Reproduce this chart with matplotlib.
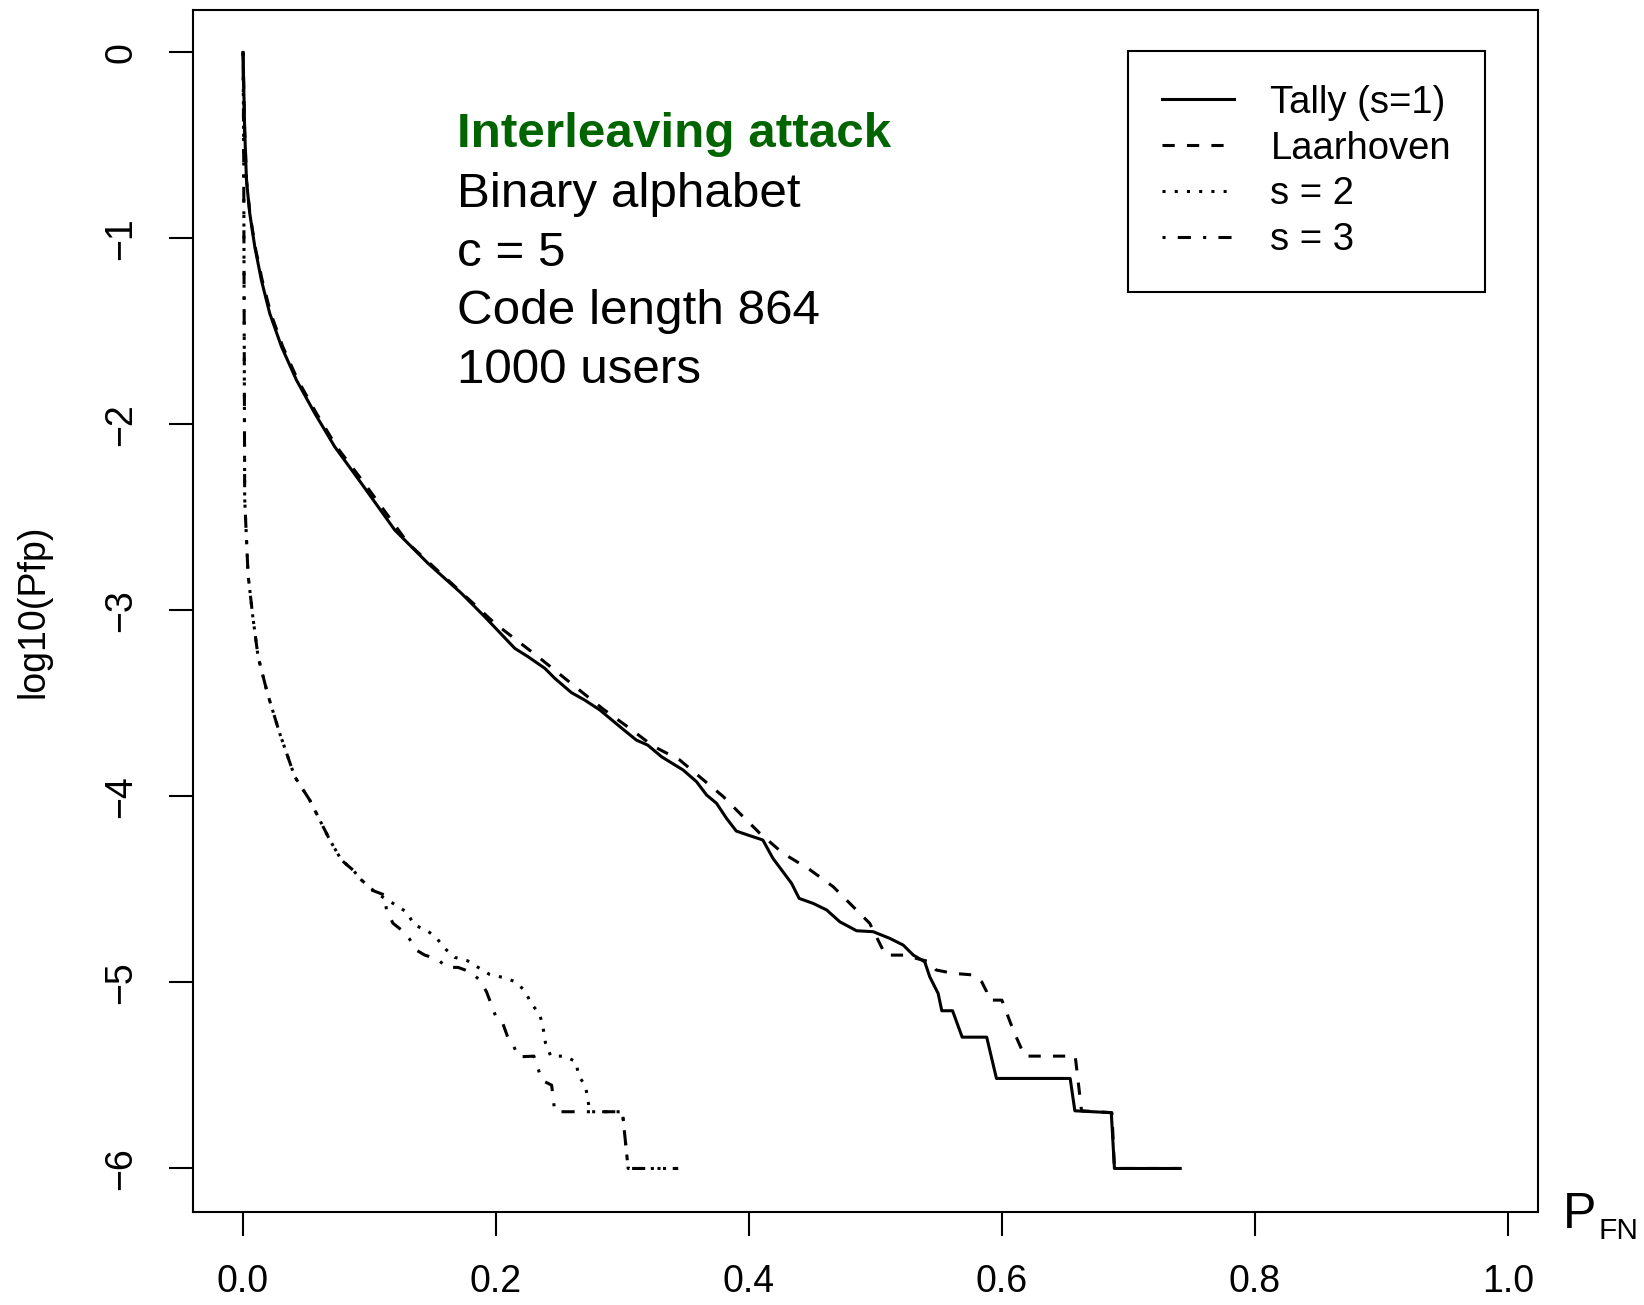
import matplotlib
matplotlib.use("Agg")
import matplotlib.pyplot as plt
from matplotlib.ticker import FormatStrFormatter

plt.rcParams["font.family"] = ["Liberation Sans", "DejaVu Sans"]

# curves: x = P_FN, y = log10(Pfp)
tally_x = [0.0, 0.0013, 0.0027, 0.0053, 0.0093, 0.0145, 0.0211, 0.0304, 0.0422, 0.0567,
           0.0725, 0.0936, 0.120, 0.1463, 0.1727, 0.1911, 0.2149, 0.2254, 0.2386, 0.2465,
           0.2597, 0.2702, 0.2821, 0.298, 0.311, 0.320, 0.331, 0.348, 0.3586, 0.3665,
           0.3744, 0.3823, 0.390, 0.3994, 0.411, 0.419, 0.4337, 0.4397, 0.4508, 0.4614,
           0.4719, 0.4851, 0.4982, 0.5114, 0.522, 0.530, 0.539, 0.543, 0.5496, 0.5525,
           0.561, 0.5686, 0.588, 0.5957, 0.654, 0.6577, 0.6865, 0.689, 0.741]
tally_y = [0.0, -0.417, -0.686, -0.865, -1.045, -1.224, -1.403, -1.582, -1.761, -1.94,
           -2.12, -2.317, -2.568, -2.747, -2.908, -3.034, -3.204, -3.249, -3.311, -3.365,
           -3.442, -3.482, -3.535, -3.625, -3.697, -3.724, -3.787, -3.858, -3.921, -3.992,
           -4.037, -4.118, -4.186, -4.208, -4.234, -4.333, -4.467, -4.548, -4.575, -4.61,
           -4.674, -4.722, -4.727, -4.763, -4.799, -4.853, -4.889, -4.97, -5.059, -5.152,
           -5.152, -5.294, -5.294, -5.516, -5.516, -5.69, -5.70, -6.0, -6.0]

laar_x = [0.0, 0.0013, 0.0028, 0.0055, 0.0097, 0.015, 0.0218, 0.0313, 0.0432, 0.058,
          0.074, 0.096, 0.1305, 0.1621, 0.199, 0.2333, 0.2676, 0.2847, 0.3058, 0.3242,
          0.3453, 0.361, 0.3796, 0.3954, 0.4086, 0.427, 0.4468, 0.4666, 0.4798, 0.4955,
          0.508, 0.522, 0.543, 0.548, 0.5615, 0.578, 0.584, 0.588, 0.59, 0.6, 0.609,
          0.618, 0.658, 0.663, 0.687, 0.689, 0.74]
laar_y = [0.0, -0.42, -0.69, -0.87, -1.05, -1.22, -1.40, -1.58, -1.76, -1.94,
          -2.12, -2.317, -2.639, -2.837, -3.069, -3.249, -3.437, -3.53, -3.634, -3.729,
          -3.804, -3.894, -4.0, -4.109, -4.198, -4.306, -4.387, -4.485, -4.575, -4.682,
          -4.853, -4.853, -4.889, -4.933, -4.951, -4.96, -4.996, -5.05, -5.095, -5.095, -5.257,
          -5.396, -5.396, -5.69, -5.70, -6.0, -6.0]

s2_x = [0.0, 0.0005, 0.0013, 0.004, 0.0079, 0.0119, 0.0193, 0.029, 0.0409, 0.0527,
        0.0686, 0.0778, 0.087, 0.0936, 0.1055, 0.1208, 0.1297, 0.1352, 0.145, 0.1529,
        0.1595, 0.1674, 0.1774, 0.1864, 0.195, 0.2056, 0.2154, 0.2228, 0.2281, 0.2346,
        0.2373, 0.2391, 0.2433, 0.2544, 0.2631, 0.2655, 0.2708, 0.2728, 0.2742, 0.300,
        0.3013, 0.3045, 0.344]
s2_y = [0.0, -0.5, -2.4, -2.81, -3.043, -3.249, -3.446, -3.661, -3.894, -4.019,
        -4.234, -4.342, -4.396, -4.449, -4.52, -4.584, -4.623, -4.691, -4.718, -4.76,
        -4.817, -4.865, -4.883, -4.921, -4.957, -4.973, -4.996, -5.045, -5.116, -5.17,
        -5.247, -5.324, -5.396, -5.396, -5.426, -5.503, -5.557, -5.636, -5.695, -5.695,
        -5.785, -6.0, -6.0]

s3_x = [0.0, 0.0005, 0.0013, 0.004, 0.0079, 0.0119, 0.0193, 0.029, 0.0409, 0.0527,
        0.0686, 0.0778, 0.087, 0.0936, 0.1015, 0.112, 0.1134, 0.1186, 0.1253, 0.1318,
        0.137, 0.1437, 0.1537, 0.161, 0.170, 0.1793, 0.1872, 0.1925, 0.1964, 0.2004,
        0.2056, 0.2096, 0.2143, 0.2175, 0.230, 0.2333, 0.236, 0.244, 0.2452, 0.2465,
        0.300, 0.3013, 0.3045, 0.344]
s3_y = [0.0, -0.5, -2.4, -2.81, -3.043, -3.249, -3.446, -3.661, -3.894, -4.019,
        -4.234, -4.342, -4.396, -4.449, -4.503, -4.53, -4.611, -4.682, -4.718, -4.768,
        -4.826, -4.853, -4.874, -4.919, -4.919, -4.942, -4.987, -5.05, -5.12, -5.193,
        -5.224, -5.30, -5.346, -5.40, -5.396, -5.462, -5.525, -5.552, -5.623, -5.695,
        -5.695, -5.785, -6.0, -6.0]

labels = ["Tally (s=1)", "Laarhoven", "s = 2", "s = 3"]
info_title = "Interleaving attack"
info_lines = ["Binary alphabet", "c = 5", "Code length 864", "1000 users"]

W, H = 1644, 1305
fig = plt.figure(figsize=(W / 100, H / 100), dpi=100)
ax = fig.add_axes([192.7 / W, 1 - 1212 / H, (1538 - 192.7) / W, (1212 - 10) / H])

lw = 2.2
ax.plot(tally_x, tally_y, color="black", lw=lw, solid_joinstyle="round", label=labels[0])
ax.plot(laar_x, laar_y, color="black", lw=lw, dashes=(4, 4), label=labels[1])
ax.plot(s2_x, s2_y, color="black", lw=lw, dashes=(1, 3), label=labels[2])
ax.plot(s3_x, s3_y, color="black", lw=lw, dashes=(1, 4, 4.3, 4), label=labels[3])

ax.set_xlim(-0.0398, 1.0239)
ax.set_ylim(-6.234, 0.228)
ax.set_xticks([0.0, 0.2, 0.4, 0.6, 0.8, 1.0])
ax.set_yticks([0, -1, -2, -3, -4, -5, -6])
ax.xaxis.set_major_formatter(FormatStrFormatter("%.1f"))
ax.tick_params(axis="both", direction="out", length=17.5, width=1.5, labelsize=27)
ax.tick_params(axis="x", pad=20)
ax.tick_params(axis="y", pad=21, labelrotation=90)
for t in ax.get_yticklabels():
    t.set_va("center")
for sp in ax.spines.values():
    sp.set_linewidth(1.5)

# annotation block
ax.text(0.169, -0.507, info_title, color="#006400", fontweight="bold", fontsize=35.6)
for i, line in enumerate(info_lines):
    ax.text(0.169, -0.83 - i * 0.316, line, color="black", fontsize=35.6)

leg = ax.legend(loc="upper left", bbox_to_anchor=(1128 / W, 1 - 51 / H),
                bbox_transform=fig.transFigure, borderaxespad=0, fontsize=27.5,
                handlelength=1.9, handletextpad=0.95, borderpad=0.88,
                labelspacing=0.26, fancybox=False, framealpha=1)
leg.get_frame().set_edgecolor("black")
leg.get_frame().set_linewidth(1.5)

fig.text(33 / W, 1 - 611 / H, "log10(Pfp)", rotation=90, fontsize=27,
         ha="center", va="center")
fig.text(1563 / W, 1 - 1228 / H, "P", fontsize=36, ha="left", va="baseline")
fig.text(1598 / W, 1 - 1239 / H, "FN", fontsize=21.5, ha="left", va="baseline")

fig.savefig("out.png", dpi=100)
